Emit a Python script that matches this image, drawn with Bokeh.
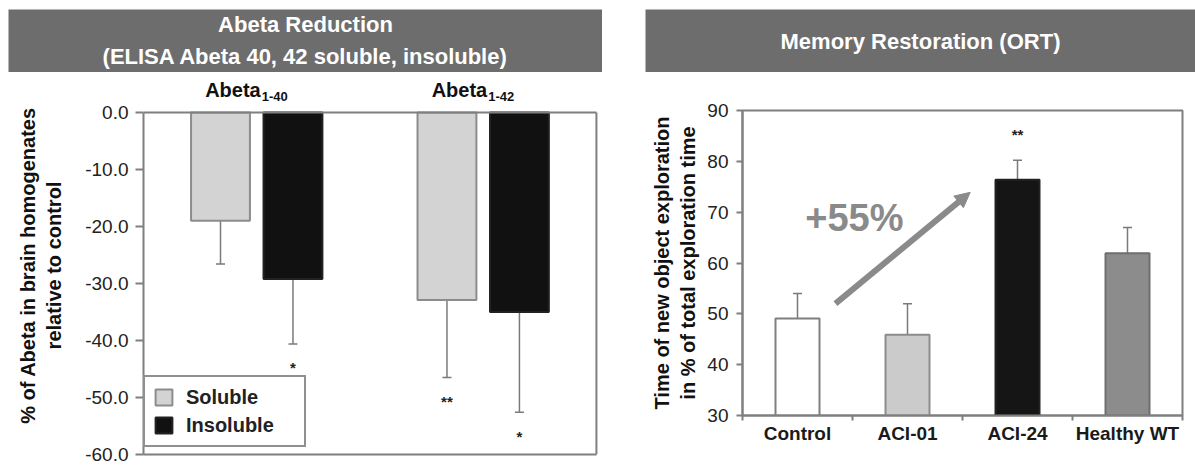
from bokeh.plotting import figure
from bokeh.models import (Range1d, FixedTicker, PrintfTickFormatter, Legend, LegendItem,
                          Arrow, NormalHead, ColumnDataSource)
from bokeh.layouts import row, column
from bokeh.embed import file_html
from bokeh.resources import INLINE
from bokeh.core.properties import value

FONT = "Liberation Sans"

# ---------------- data: left panel ----------------
groups = ["Abeta1-40", "Abeta1-42"]
group_main = ["Abeta", "Abeta"]
group_sub = ["1-40", "1-42"]
soluble = [-19.0, -32.9]
soluble_err = [7.6, 13.6]
insoluble = [-29.2, -35.0]
insoluble_err = [11.4, 17.6]
soluble_sig = ["", "**"]
insoluble_sig = ["*", "*"]
left_ticks = [0, -10, -20, -30, -40, -50, -60]

# ---------------- data: right panel ----------------
treatments = ["Control", "ACI-01", "ACI-24", "Healthy WT"]
exploration = [49.1, 45.9, 76.4, 61.9]
exploration_err = [4.9, 6.1, 3.8, 5.1]
exploration_sig = ["", "", "**", ""]
right_ticks = [30, 40, 50, 60, 70, 80, 90]

BANNER = "#6d6d6d"
AXIS = "#7f7f7f"
ERR = "#7a7a7a"


def banner(width, pad_left, lines):
    b = figure(width=width, height=72, x_range=Range1d(0, 1), y_range=Range1d(0, 1),
               min_border_left=pad_left, min_border_right=0, min_border_top=9,
               min_border_bottom=0, x_axis_location=None, y_axis_location=None,
               toolbar_location=None, output_backend="svg", frame_align=False,
               background_fill_color=BANNER, border_fill_color="white",
               outline_line_color=None)
    b.grid.visible = False
    ys = [0.76, 0.26] if len(lines) == 2 else [0.49]
    b.text(x=[0.5] * len(lines), y=ys, text=lines, text_align="center",
           text_baseline="middle", text_color="white", text_font=value(FONT),
           text_font_style="bold", text_font_size="22px")
    return b


# ================= left plot =================
ng = len(groups)
gx = [i + 0.5 for i in range(ng)]
OFF, BW = 0.16, 0.26
lp = figure(width=602, height=393, x_range=Range1d(0, ng + 0.018), y_range=Range1d(-60, 6.3),
            min_border_left=143, min_border_right=2, min_border_top=4, min_border_bottom=11,
            toolbar_location=None, output_backend="svg", outline_line_color=None,
            frame_align=False)
lp.grid.visible = False

sol = ColumnDataSource(dict(x=[g - OFF for g in gx], v=soluble,
                            lo=[v - e for v, e in zip(soluble, soluble_err)],
                            sy=[v - e - 4.2 for v, e in zip(soluble, soluble_err)],
                            sig=soluble_sig))
ins = ColumnDataSource(dict(x=[g + OFF for g in gx], v=insoluble,
                            lo=[v - e for v, e in zip(insoluble, insoluble_err)],
                            sy=[v - e - 4.2 for v, e in zip(insoluble, insoluble_err)],
                            sig=insoluble_sig))

for src in (sol, ins):
    lp.segment(x0="x", y0="v", x1="x", y1="lo", source=src, line_color=ERR, line_width=1.5)
    lp.scatter(x="x", y="lo", marker="dash", size=9, source=src, line_color=ERR, line_width=1.5)
    lp.text(x="x", y="sy", text="sig", source=src, text_align="center", text_baseline="middle",
            text_font=value(FONT), text_font_style="bold", text_font_size="15px",
            text_color="#222222")

r_sol = lp.vbar(x="x", width=BW, top=0, bottom="v", source=sol, fill_color="#d3d3d3",
                line_color="#8c8c8c", line_width=2)
r_ins = lp.vbar(x="x", width=BW, top=0, bottom="v", source=ins, fill_color="#111111",
                line_color="#222222", line_width=2)

# box lines: top (zero line) and right edge
lp.segment(x0=[0], y0=[0], x1=[ng], y1=[0], line_color=AXIS, line_width=2)
lp.segment(x0=[ng], y0=[0], x1=[ng], y1=[-60], line_color=AXIS, line_width=2)

# group labels with subscripts
lp.text(x=gx, y=[4.0] * ng, text=group_main, text_align="right", text_baseline="middle",
        x_offset=4, text_font=value(FONT), text_font_style="bold", text_font_size="20px",
        text_color="#111111")
lp.text(x=gx, y=[2.8] * ng, text=group_sub, text_align="left", text_baseline="middle",
        x_offset=5, text_font=value(FONT), text_font_style="bold", text_font_size="13px",
        text_color="#111111")

yax = lp.yaxis[0]
yax.ticker = FixedTicker(ticks=left_ticks)
yax.formatter = PrintfTickFormatter(format="%.1f")
yax.bounds = (-60, 0)
yax.axis_line_color = AXIS
yax.axis_line_width = 2
yax.major_tick_line_color = AXIS
yax.major_tick_line_width = 2
yax.major_tick_out = 8
yax.major_tick_in = 0
yax.minor_tick_line_color = None
yax.major_label_standoff = 7
yax.major_label_text_font = FONT
yax.major_label_text_font_size = "19px"
yax.major_label_text_color = "#222222"
yax.axis_label = "% of Abeta in brain homogenates\nrelative to control"
yax.axis_label_text_font = FONT
yax.axis_label_text_font_style = "bold"
yax.axis_label_text_font_size = "20px"
yax.axis_label_text_color = "#111111"
yax.axis_label_standoff = 17

xax = lp.xaxis[0]
xax.ticker = FixedTicker(ticks=[])
xax.bounds = (0, ng)
xax.axis_line_color = AXIS
xax.axis_line_width = 2
xax.major_tick_line_color = None
xax.minor_tick_line_color = None

legend = Legend(items=[LegendItem(label="Soluble", renderers=[r_sol]),
                       LegendItem(label="Insoluble", renderers=[r_ins])],
                location=(0, 7), margin=0, padding=8, spacing=4,
                label_text_font=FONT, label_text_font_style="bold",
                label_text_font_size="20px", label_text_color="#222222",
                glyph_width=21, glyph_height=20, label_height=24, label_width=110,
                label_standoff=12,
                border_line_color="#222222", border_line_width=2,
                background_fill_color="white", background_fill_alpha=1)
lp.add_layout(legend)

# ================= right plot =================
nt = len(treatments)
cx = [i + 0.5 for i in range(nt)]
fills = ["#ffffff", "#cbcbcb", "#151515", "#8c8c8c"]
edges = ["#7f7f7f", "#8c8c8c", "#222222", "#6e6e6e"]
rsrc = ColumnDataSource(dict(x=cx, v=exploration,
                             hi=[v + e for v, e in zip(exploration, exploration_err)],
                             sy=[v + e + 5.0 for v, e in zip(exploration, exploration_err)],
                             sig=exploration_sig, fill=fills, edge=edges))

rp = figure(width=593, height=393, x_range=Range1d(0, nt), y_range=Range1d(30, 90),
            min_border_left=140, min_border_right=13, min_border_top=38, min_border_bottom=50,
            toolbar_location=None, output_backend="svg", frame_align=False,
            outline_line_color=AXIS, outline_line_width=2)
rp.grid.visible = False

rp.segment(x0="x", y0="v", x1="x", y1="hi", source=rsrc, line_color=ERR, line_width=1.5)
rp.scatter(x="x", y="hi", marker="dash", size=9, source=rsrc, line_color=ERR, line_width=1.5)
rp.vbar(x="x", width=0.4, bottom=30, top="v", source=rsrc, fill_color="fill",
        line_color="edge", line_width=2)
rp.text(x="x", y="sy", text="sig", source=rsrc, text_align="center", text_baseline="middle",
        text_font=value(FONT), text_font_style="bold", text_font_size="15px",
        text_color="#222222")

rp.add_layout(Arrow(end=NormalHead(size=15, fill_color="#8a8a8a", line_color="#8a8a8a"),
                    x_start=0.845, y_start=52.0, x_end=2.07, y_end=73.9,
                    line_color="#8a8a8a", line_width=6))
rp.text(x=[0.57], y=[68.8], text=["+55%"], text_align="left", text_baseline="middle",
        text_font=value(FONT), text_font_style="bold", text_font_size="38px",
        text_color="#8a8a8a")

ry = rp.yaxis[0]
ry.ticker = FixedTicker(ticks=right_ticks)
ry.axis_line_color = AXIS
ry.axis_line_width = 2
ry.major_tick_line_color = AXIS
ry.major_tick_line_width = 2
ry.major_tick_out = 6
ry.major_tick_in = 0
ry.minor_tick_line_color = None
ry.major_label_standoff = 8
ry.major_label_text_font = FONT
ry.major_label_text_font_size = "19px"
ry.major_label_text_color = "#222222"
ry.axis_label = "Time of new object exploration\nin % of total exploration time"
ry.axis_label_text_font = FONT
ry.axis_label_text_font_style = "bold"
ry.axis_label_text_font_size = "20px"
ry.axis_label_text_color = "#111111"
ry.axis_label_standoff = 5

rx = rp.xaxis[0]
rx.ticker = FixedTicker(ticks=cx, minor_ticks=list(range(nt + 1)))
rx.major_label_overrides = {c: t for c, t in zip(cx, treatments)}
rx.axis_line_color = AXIS
rx.axis_line_width = 2
rx.major_tick_line_color = None
rx.major_tick_out = 0
rx.major_tick_in = 0
rx.minor_tick_line_color = AXIS
rx.minor_tick_line_width = 2
rx.minor_tick_out = 5
rx.minor_tick_in = 0
rx.major_label_standoff = 2
rx.major_label_text_font = FONT
rx.major_label_text_font_style = "bold"
rx.major_label_text_font_size = "19px"
rx.major_label_text_color = "#1a1a1a"

lb = banner(602, 8, ["Abeta Reduction", "(ELISA Abeta 40, 42 soluble, insoluble)"])
rb = banner(593, 43, ["Memory Restoration (ORT)"])

layout = row(column(lb, lp), column(rb, rp))
open("out.html", "w").write(file_html(layout, INLINE))
